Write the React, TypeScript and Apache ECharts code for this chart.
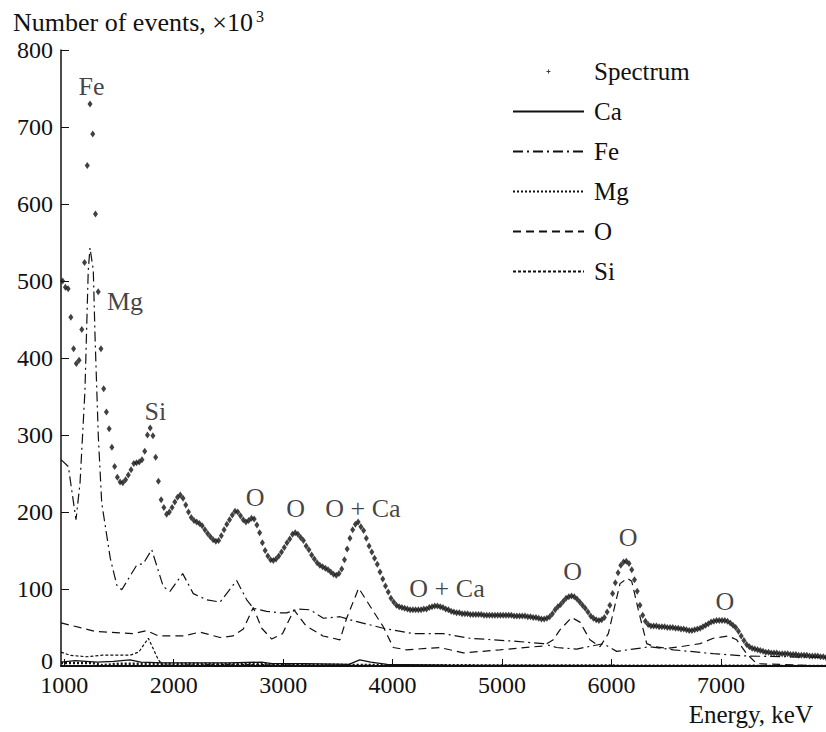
import React, { useEffect, useRef } from "react";
import * as echarts from "echarts";

// Spectrum: channels every 25 keV starting at 985 keV (values in thousands of events)
const spectrumStart = 985;
const spectrumStep = 25;
const spectrumValues = [
  500, 492, 490, 453, 412, 393, 397, 437, 524, 650,
  730, 691, 587, 486, 412, 360, 330, 308, 284, 259,
  245, 239, 238, 242, 248, 255, 263, 264, 265, 268,
  279, 300, 309, 299, 271, 240, 216, 206, 197, 200,
  206, 213, 219, 222, 218, 209, 200, 193, 189, 187,
  185, 182, 177, 172, 168, 164, 162, 163, 169, 177,
  184, 190, 196, 201, 200, 195, 190, 187, 189, 192,
  191, 183, 173, 160, 150, 143, 138, 137, 139, 143,
  148, 154, 160, 165, 171, 173, 171, 167, 163, 156,
  151, 144, 139, 134, 131, 129, 127, 125, 122, 119,
  118, 120, 126, 138, 152, 166, 177, 184, 187, 181,
  176, 166, 156, 148, 140, 132, 122, 113, 104, 96,
  88, 83, 79, 77, 76, 75, 74, 73, 73, 73,
  73, 73, 74, 74, 76, 77, 78, 78, 77, 76,
  74, 73, 71, 70, 69, 69, 68, 68, 68, 67,
  67, 67, 67, 67, 66, 66, 66, 66, 66, 66,
  66, 66, 66, 66, 66, 65, 65, 65, 65, 65,
  64, 64, 63, 63, 62, 61, 61, 62, 64, 68,
  73, 77, 80, 84, 88, 90, 91, 90, 87, 83,
  79, 75, 70, 65, 62, 60, 59, 60, 63, 70,
  79, 94, 108, 121, 131, 135, 136, 133, 125, 112,
  97, 79, 66, 58, 54, 52, 52, 52, 51, 51,
  51, 50, 50, 50, 49, 49, 48, 48, 47, 46,
  46, 47, 48, 49, 51, 53, 55, 57, 58, 59,
  59, 59, 59, 58, 56, 53, 50, 45, 39, 33,
  28, 25, 23, 22, 21, 20, 19, 18, 18, 17,
  17, 17, 16, 16, 16, 16, 15, 15, 15, 14,
  14, 14, 14, 13, 13, 13, 13, 12, 12, 11,
];

const caEnergy = [970, 1100, 1300, 1450, 1600, 1700, 1900, 2500, 2800, 2900, 3200, 3600, 3700, 3800, 3950, 4500, 7960];
const caValues = [5, 7, 5, 6, 8, 5, 4, 4, 5, 3, 3, 2, 8, 5, 2, 1, 0];

const feEnergy = [970, 1037, 1107, 1144, 1189, 1219, 1235, 1265, 1281, 1311, 1342, 1420, 1480, 1525, 1662, 1722, 1799, 1905, 1966, 2082, 2179, 2301, 2423, 2575, 2667, 2727, 2849, 2971, 3032, 3138, 3245, 3367, 3519, 3611, 3915, 4189, 4463, 4707, 5134, 5377, 5499, 5682, 5925, 6047, 6352, 6565, 6930, 7235, 7960];
const feValues = [268, 259, 190, 238, 358, 514, 543, 514, 428, 298, 212, 140, 105, 99, 131, 133, 151, 103, 97, 120, 94, 86, 83, 111, 86, 75, 71, 69, 69, 74, 73, 62, 64, 60, 49, 42, 42, 36, 32, 29, 24, 22, 29, 19, 25, 21, 16, 13, 11];

const mgEnergy = [970, 1250, 1350, 1500, 2000, 3000, 4000, 7960];
const mgValues = [4, 4, 1, 3, 3, 2, 1, 0];

const oEnergy = [970, 1281, 1631, 1753, 1859, 2085, 2240, 2423, 2542, 2636, 2727, 2804, 2895, 2994, 3099, 3209, 3364, 3519, 3580, 3690, 3824, 3915, 4006, 4128, 4433, 4646, 4981, 5377, 5468, 5529, 5636, 5712, 5803, 5895, 5971, 6078, 6145, 6185, 6245, 6322, 6397, 6504, 6626, 6809, 6930, 7067, 7144, 7235, 7327, 7960];
const oValues = [56, 45, 42, 46, 39, 39, 44, 37, 39, 48, 76, 49, 35, 42, 73, 52, 39, 34, 62, 101, 71, 51, 24, 21, 24, 17, 21, 26, 34, 47, 63, 57, 34, 25, 42, 107, 114, 110, 73, 29, 25, 23, 25, 29, 36, 39, 34, 16, 3, 0];

const siEnergy = [970, 1050, 1200, 1350, 1600, 1680, 1768, 1860, 1900, 2500, 3500, 4500, 7960];
const siValues = [18, 14, 12, 14, 14, 18, 36, 8, 1, 2, 1, 0, 0];

const annotationLabels = ["Fe", "Mg", "Si", "O", "O", "O + Ca", "O + Ca", "O", "O", "O"];
const annotationEnergy = [1249, 1555, 1833, 2743, 3113, 3729, 4497, 5644, 6151, 7037];
const annotationValues = [752, 473, 330, 219, 205, 205, 101, 123, 167, 84];

const xTickValues = [1000, 2000, 3000, 4000, 5000, 6000, 7000];

const FONT = "Liberation Serif, Times New Roman, serif";
const INK = "#111111";

// small plus sign centred in a 71-wide legend box (tiny corner specks set the box)
const SPECTRUM_ICON =
  "path://M0 3L0.02 3L0 3.02Z M33.5 2.5H35V1H36V2.5H37.5V3.5H36V5H35V3.5H33.5Z M71 3L71.02 3L71 3.02Z";

function pairs(xs: number[], ys: number[]) {
  return xs.map((x, i) => [x, ys[i]]);
}

export default function App() {
  const ref = useRef<HTMLDivElement>(null);

  useEffect(() => {
    if (!ref.current) return;
    const chart = echarts.init(ref.current, null, { renderer: "svg" });

    const spectrumData = spectrumValues.map((v, i) => [spectrumStart + i * spectrumStep, v]);

    const lineSeries = (name: string, data: number[][], lineStyle: any) => ({
      name,
      type: "line",
      data,
      symbol: "none",
      showSymbol: false,
      smooth: false,
      lineStyle: { color: INK, ...lineStyle },
      itemStyle: { color: INK },
      z: 3,
    });

    const hiddenMarker = { itemStyle: { opacity: 0 } };

    chart.setOption({
      animation: false,
      backgroundColor: "#ffffff",
      textStyle: { fontFamily: FONT },
      grid: { left: 61, right: 0, top: 50, bottom: 66, containLabel: false },
      xAxis: {
        type: "value",
        min: 970,
        max: 7960,
        axisLine: { show: true, lineStyle: { color: INK, width: 2 } },
        axisTick: {
          show: true,
          inside: true,
          length: 7,
          customValues: xTickValues,
          lineStyle: { color: INK, width: 1 },
        },
        axisLabel: {
          customValues: xTickValues,
          formatter: (v: number) => String(v),
          fontSize: 24,
          lineHeight: 16,
          fontFamily: FONT,
          color: INK,
          margin: 11,
        },
        splitLine: { show: false },
      },
      yAxis: {
        type: "value",
        min: 0,
        max: 800,
        interval: 100,
        axisLine: { show: true, lineStyle: { color: INK, width: 1.5 } },
        axisTick: { show: true, inside: true, length: 8, lineStyle: { color: INK, width: 1 } },
        axisLabel: {
          formatter: (v: number) => (v === 0 ? "{zero|0}" : String(v)),
          fontSize: 24,
          lineHeight: 16,
          fontFamily: FONT,
          color: INK,
          margin: 8,
          rich: {
            zero: { fontSize: 24, lineHeight: 16, fontFamily: FONT, color: INK, padding: [0, 0, 10, 0] },
          },
        },
        splitLine: { show: false },
      },
      legend: {
        orient: "vertical",
        left: 512,
        top: 59,
        padding: 0,
        itemWidth: 71,
        itemHeight: 6,
        itemGap: 15,
        selectedMode: false,
        textStyle: { fontSize: 25, fontFamily: FONT, color: INK, lineHeight: 24, padding: [0, 0, 0, 5] },
        data: [
          { name: "Spectrum", icon: SPECTRUM_ICON },
          { name: "Ca", ...hiddenMarker },
          { name: "Fe", ...hiddenMarker },
          { name: "Mg", ...hiddenMarker },
          { name: "O", ...hiddenMarker },
          { name: "Si", ...hiddenMarker },
        ],
      },
      graphic: [
        {
          type: "text",
          left: 13,
          top: 9,
          style: { text: "Number of events, ×10", font: `26px ${FONT}`, fill: INK },
        },
        {
          type: "text",
          left: 256,
          top: 8,
          style: { text: "3", font: `16px ${FONT}`, fill: INK },
        },
        {
          type: "text",
          right: 13,
          top: 702,
          style: { text: "Energy, keV", font: `25px ${FONT}`, fill: INK },
        },
      ],
      series: [
        {
          name: "Spectrum",
          type: "scatter",
          data: spectrumData,
          symbol: "diamond",
          symbolSize: [5, 7],
          itemStyle: { color: INK },
          z: 4,
        },
        lineSeries("Ca", pairs(caEnergy, caValues), { type: "solid", width: 1.3 }),
        lineSeries("Fe", pairs(feEnergy, feValues), { type: [10, 4, 2, 4], width: 1.2 }),
        lineSeries("Mg", pairs(mgEnergy, mgValues), { type: [2, 2], width: 2.5 }),
        lineSeries("O", pairs(oEnergy, oValues), { type: [8, 5], width: 1.2 }),
        lineSeries("Si", pairs(siEnergy, siValues), { type: [3, 2], width: 1.2 }),
        {
          name: "annotations",
          type: "scatter",
          silent: true,
          symbolSize: 0,
          data: annotationLabels.map((t, i) => ({ name: t, value: [annotationEnergy[i], annotationValues[i]] })),
          label: {
            show: true,
            position: "inside",
            formatter: "{b}",
            fontSize: 26,
            fontFamily: FONT,
            color: INK,
          },
          z: 5,
        },
      ],
    });

    return () => chart.dispose();
  }, []);

  return <div ref={ref} style={{ width: 826, height: 732, position: "absolute", left: 0, top: 0 }} />;
}
